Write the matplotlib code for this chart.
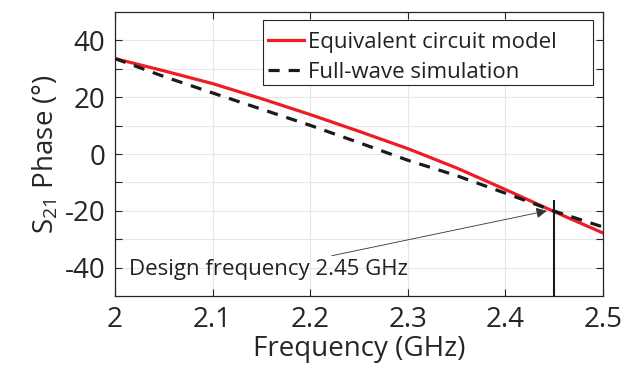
import numpy as np
import matplotlib
matplotlib.use("Agg")
import matplotlib.pyplot as plt
from matplotlib.patches import Rectangle

plt.rcParams['font.family'] = ['Open Sans', 'DejaVu Sans']
plt.rcParams['mathtext.fontset'] = 'custom'
plt.rcParams['mathtext.rm'] = 'Open Sans'
plt.rcParams['mathtext.it'] = 'Open Sans'

freq = [2.00, 2.05, 2.10, 2.15, 2.20, 2.25, 2.30, 2.35, 2.40, 2.45, 2.50]
circuit_model = [33.6, 29.3, 24.8, 19.5, 13.9, 8.0, 1.9, -4.9, -12.5, -20.3, -27.8]
full_wave = [33.6, 27.3, 21.5, 15.8, 10.1, 4.0, -2.2, -7.6, -13.8, -20.1, -25.7]
design_freq = 2.45
x_ticks = [2.0, 2.1, 2.2, 2.3, 2.4, 2.5]
x_labels = ['2', '2.1', '2.2', '2.3', '2.4', '2.5']
y_ticks = [-40, -30, -20, -10, 0, 10, 20, 30, 40]
y_labels = ['-40', '', '-20', '', '0', '', '20', '', '40']

fig = plt.figure(figsize=(6.37, 3.73), dpi=100)
ax = fig.add_axes([0.1805, 0.2064, 0.7661, 0.7614])

ax.plot(freq, circuit_model, color='#ee1c25', lw=2.3, label='Equivalent circuit model', zorder=3)
ax.plot(freq, full_wave, color='#1a1a1a', lw=2.3, ls=(0, (3.5, 2.8)), label='Full-wave simulation', zorder=4)

# marker line at the design frequency
ax.plot([design_freq, design_freq], [-50, -16.5], color='#1a1a1a', lw=1.5, zorder=5)

ax.annotate('Design frequency 2.45 GHz', xy=(2.4425, -20.0), xytext=(2.014, -40.5),
            fontsize=16, color='#222222', ha='left', va='center',
            arrowprops=dict(arrowstyle='-|>', color='#333333', lw=0.6,
                            mutation_scale=16, shrinkA=0, shrinkB=0))

ax.set_xlim(2.0, 2.5)
ax.set_ylim(-50, 50)
ax.set_xticks(x_ticks)
ax.set_xticklabels(x_labels)
ax.set_yticks(y_ticks)
ax.set_yticklabels(y_labels)
ax.tick_params(direction='in', length=5, width=0.8, top=True, right=True,
               labelsize=20, colors='#262626', pad=7)
ax.grid(True, color='#e6e6e6', lw=0.8)
ax.set_axisbelow(True)
for s in ax.spines.values():
    s.set_color('#262626')
    s.set_linewidth(0.9)

ax.set_xlabel('Frequency (GHz)', fontsize=20, color='#262626', labelpad=1)
ax.set_ylabel('S$_{21}$ Phase (°)', fontsize=20, color='#262626', labelpad=3)

# legend entries without their own frame; a wider box is drawn around them
leg = ax.legend(loc='upper left', fontsize=16, frameon=False,
                handlelength=1.65, handletextpad=0.15, borderpad=0.22,
                labelspacing=0.42, borderaxespad=0.0, bbox_to_anchor=(0.303, 0.948))
for t in leg.get_texts():
    t.set_color('#222222')
ax.add_patch(Rectangle((0.303, 0.743), 0.677, 0.229, transform=ax.transAxes,
                       facecolor='white', edgecolor='#262626', lw=0.8, zorder=6))
leg.set_zorder(7)

fig.savefig('out.png', dpi=100)
